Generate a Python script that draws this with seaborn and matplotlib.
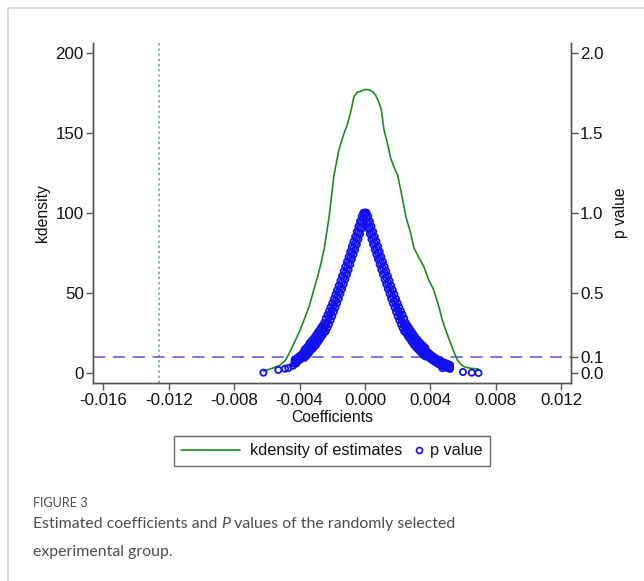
import numpy as np
import pandas as pd
import matplotlib
matplotlib.use("Agg")
import matplotlib.pyplot as plt
import seaborn as sns
from matplotlib.lines import Line2D
from matplotlib.legend_handler import HandlerLine2D

# ---------------- data ----------------
kd_coef = [-0.0062, -0.0057, -0.0052, -0.00485, -0.0046, -0.00434, -0.0040, -0.00373,
           -0.0034, -0.0031, -0.0029, -0.0027, -0.0025, -0.00235, -0.0022, -0.0019,
           -0.0016, -0.0013, -0.00108, -0.00087, -0.00067, -0.00046, -0.00026, 0.0,
           0.00025, 0.00045, 0.00065, 0.00085, 0.0010, 0.00116, 0.00137, 0.00157,
           0.0018, 0.0020, 0.00229, 0.0025, 0.0028, 0.0030, 0.0033, 0.0036, 0.0039,
           0.0042, 0.00438, 0.00453, 0.00473, 0.0050, 0.00524, 0.00545, 0.00565,
           0.00585, 0.00606, 0.00647, 0.00694]
kd_dens = [1.2, 2.8, 4.8, 8.1, 13.0, 18.5, 26.0, 33.0,
           42.0, 53.0, 60.0, 68.0, 77.0, 87.0, 97.0, 123.0,
           139.0, 149.0, 155.0, 163.0, 172.5, 175.4, 175.8, 177.0,
           176.8, 175.8, 173.5, 169.0, 164.4, 152.0, 143.6, 134.2,
           128.0, 123.5, 109.0, 97.7, 87.0, 78.0, 72.0, 66.4, 58.0,
           52.0, 46.0, 41.0, 33.0, 25.0, 18.5, 13.0, 8.1,
           5.5, 3.9, 2.9, 2.5]

# p values, right branch (coefficient >= 0): coefficient grid and three rows of
# p values (band centre, inner edge, outer edge)
p_right_coef = [0.0, 0.0001, 0.0002, 0.0003, 0.0004, 0.0005, 0.0006, 0.0007, 0.0008, 0.0009,
                0.0010, 0.0011, 0.0012, 0.0013, 0.0014, 0.0015, 0.0016, 0.0017, 0.0018, 0.0019,
                0.0020, 0.0021, 0.0022, 0.0023, 0.0024, 0.0025, 0.0026, 0.0027, 0.0028, 0.0029,
                0.0030, 0.0031, 0.0032, 0.0033, 0.0034, 0.0035, 0.0036, 0.0037, 0.0038, 0.0039,
                0.0040, 0.0041, 0.0042, 0.0043, 0.0044, 0.0045, 0.0046, 0.0047, 0.0048, 0.0049,
                0.0050, 0.0051, 0.0052]
p_right_mid = [1.000, 0.970, 0.940, 0.907, 0.875, 0.842, 0.810, 0.780, 0.750, 0.717,
               0.685, 0.655, 0.625, 0.595, 0.565, 0.535, 0.505, 0.477, 0.450, 0.422,
               0.395, 0.370, 0.345, 0.322, 0.300, 0.282, 0.265, 0.250, 0.235, 0.220,
               0.205, 0.192, 0.180, 0.169, 0.158, 0.148, 0.138, 0.129, 0.120, 0.111,
               0.103, 0.095, 0.088, 0.081, 0.075, 0.069, 0.064, 0.059, 0.054, 0.050,
               0.046, 0.042, 0.038]
p_right_hi = [1.000, 1.000, 0.978, 0.946, 0.915, 0.882, 0.850, 0.820, 0.790, 0.757,
              0.725, 0.695, 0.665, 0.635, 0.605, 0.575, 0.545, 0.517, 0.490, 0.462,
              0.435, 0.410, 0.385, 0.362, 0.340, 0.312, 0.295, 0.280, 0.265, 0.250,
              0.235, 0.220, 0.208, 0.196, 0.185, 0.175, 0.165, 0.155, 0.134, 0.125,
              0.116, 0.108, 0.100, 0.093, 0.087, 0.081, 0.076, 0.071, 0.066, 0.062,
              0.058, 0.054, 0.050]
p_right_lo = [0.985, 0.932, 0.902, 0.868, 0.835, 0.802, 0.770, 0.740, 0.710, 0.677,
              0.645, 0.615, 0.585, 0.555, 0.525, 0.495, 0.465, 0.437, 0.410, 0.382,
              0.355, 0.330, 0.305, 0.282, 0.260, 0.252, 0.235, 0.220, 0.205, 0.190,
              0.175, 0.164, 0.152, 0.142, 0.131, 0.121, 0.111, 0.103, 0.106, 0.097,
              0.090, 0.082, 0.075, 0.068, 0.062, 0.056, 0.051, 0.046, 0.041, 0.037,
              0.033, 0.030, 0.026]

# p values, left branch (coefficient <= 0)
p_left_coef = [0.0, -0.0001, -0.0002, -0.0003, -0.0004, -0.0005, -0.0006, -0.0007, -0.0008,
               -0.0009, -0.0010, -0.0011, -0.0012, -0.0013, -0.0014, -0.0015, -0.0016, -0.0017,
               -0.0018, -0.0019, -0.0020, -0.0021, -0.0022, -0.0023, -0.0024, -0.0025, -0.0026,
               -0.0027, -0.0028, -0.0029, -0.0030, -0.0031, -0.0032, -0.0033, -0.0034, -0.0035,
               -0.0036, -0.0037, -0.0038, -0.0039, -0.0040, -0.0041, -0.0042, -0.0043]
p_left_mid = [1.000, 0.970, 0.940, 0.907, 0.875, 0.842, 0.810, 0.780, 0.750, 0.717,
              0.685, 0.655, 0.625, 0.595, 0.565, 0.535, 0.505, 0.477, 0.450, 0.422,
              0.395, 0.370, 0.345, 0.322, 0.300, 0.282, 0.265, 0.250, 0.235, 0.220,
              0.205, 0.192, 0.180, 0.169, 0.158, 0.140, 0.130, 0.120, 0.111, 0.102,
              0.093, 0.085, 0.077, 0.069]
p_left_hi = [1.000, 1.000, 0.978, 0.946, 0.915, 0.882, 0.850, 0.820, 0.790, 0.757,
             0.725, 0.695, 0.665, 0.635, 0.605, 0.575, 0.545, 0.517, 0.490, 0.462,
             0.435, 0.410, 0.385, 0.362, 0.340, 0.312, 0.295, 0.280, 0.265, 0.250,
             0.235, 0.220, 0.208, 0.196, 0.185, 0.165, 0.155, 0.145, 0.123, 0.114,
             0.105, 0.097, 0.089, 0.081]
p_left_lo = [0.985, 0.932, 0.902, 0.868, 0.835, 0.802, 0.770, 0.740, 0.710, 0.677,
             0.645, 0.615, 0.585, 0.555, 0.525, 0.495, 0.465, 0.437, 0.410, 0.382,
             0.355, 0.330, 0.305, 0.282, 0.260, 0.252, 0.235, 0.220, 0.205, 0.190,
             0.175, 0.164, 0.152, 0.142, 0.131, 0.115, 0.105, 0.095, 0.099, 0.090,
             0.081, 0.073, 0.065, 0.057]

# isolated p values in the tails
p_tail_coef = [-0.00621, -0.00530, -0.00489, -0.00469, -0.00440, -0.00420,
               0.00473, 0.00518, 0.00599, 0.00653, 0.00694]
p_tail_val = [0.002, 0.019, 0.027, 0.031, 0.045, 0.060,
              0.030, 0.030, 0.006, 0.002, 0.000]

x_ticks = [-0.016, -0.012, -0.008, -0.004, 0.0, 0.004, 0.008, 0.012]
x_tick_labels = ["-0.016", "-0.012", "-0.008", "-0.004", "0.000", "0.004", "0.008", "0.012"]
y_ticks = [0, 50, 100, 150, 200]
p_ticks = [0.0, 0.1, 0.5, 1.0, 1.5, 2.0]
p_tick_labels = ["0.0", "0.1", "0.5", "1.0", "1.5", "2.0"]
p_threshold = 0.1
true_effect = -0.0126

kd_df = pd.DataFrame({"coef": kd_coef, "dens": kd_dens})
p_df = pd.DataFrame({
    "coef": (p_right_coef * 3) + (p_left_coef * 3) + p_tail_coef,
    "p": p_right_mid + p_right_hi + p_right_lo + p_left_mid + p_left_hi + p_left_lo + p_tail_val,
})

# ---------------- styling ----------------
sns.set_style("white")
plt.rcParams["font.family"] = ["Liberation Sans", "DejaVu Sans"]
FS_TICK = 12.2
FS_LAB = 11.3
FS_LEG = 11.7
green = "#1e8c1e"
blue = "#1010f0"
spine_c = "#555555"
txt_c = "#111111"

W, H = 644, 581
fig = plt.figure(figsize=(W / 100, H / 100), dpi=100)
fig.patch.set_facecolor("white")

ax = fig.add_axes([92.7 / W, 1 - 383 / H, (571 - 92.7) / W, (383 - 43) / H])
ax2 = ax.twinx()

ylo, yhi = -6.25, 206.0
ax.set_xlim(-0.01665, 0.0126)
ax.set_ylim(ylo, yhi)
ax2.set_ylim(ylo / 100, yhi / 100)

# reference lines
ax.axvline(true_effect, color="#5e9c8a", lw=1.1, ls=(0, (1.4, 2.0)), zorder=1)
ax.axhline(p_threshold * 100, color="#5454d8", lw=1.1, ls=(0, (8, 5)), zorder=1)

sns.lineplot(data=kd_df, x="coef", y="dens", ax=ax, color=green, lw=1.2,
             sort=False, legend=False, zorder=3)
sns.scatterplot(data=p_df, x="coef", y="p", ax=ax2, marker="o", s=20,
                facecolor="none", edgecolor=blue, linewidth=1.3, legend=False, zorder=4)

for a in (ax, ax2):
    a.set_facecolor("none")
    a.spines["top"].set_visible(False)
    for side in ("left", "right", "bottom"):
        a.spines[side].set_color(spine_c)
        a.spines[side].set_linewidth(1.0)

ax.set_xticks(x_ticks)
ax.set_xticklabels(x_tick_labels)
ax.set_yticks(y_ticks)
ax.set_yticklabels([str(v) for v in y_ticks])
ax2.set_yticks(p_ticks)
ax2.set_yticklabels(p_tick_labels)

ax.tick_params(axis="both", which="major", direction="out", length=5, width=1.0,
               color=spine_c, labelsize=FS_TICK, labelcolor=txt_c, left=True, bottom=True)
ax.tick_params(axis="y", pad=1.5)
ax.tick_params(axis="x", pad=2.0)
ax2.tick_params(axis="y", direction="out", length=5, width=1.0, color=spine_c,
                labelsize=FS_TICK, labelcolor=txt_c, pad=1.5, right=True)

ax.set_xlabel("Coefficients", fontsize=FS_LAB, color=txt_c, labelpad=1.5)
ax.set_ylabel("kdensity", fontsize=FS_LAB, color=txt_c, labelpad=4)
ax2.set_ylabel("p value", fontsize=FS_LAB, color=txt_c, labelpad=7, rotation=90)

# legend
h_line = Line2D([], [], color=green, lw=1.2)
h_pt = Line2D([], [], ls="none", marker="o", ms=4.3, mfc="none", mec=blue, mew=1.2)
leg = fig.legend([h_line, h_pt], ["kdensity of estimates", "p value"],
                 loc="center", bbox_to_anchor=(332 / W, 1 - 451 / H), ncol=2,
                 fontsize=FS_LEG, frameon=True, fancybox=False, edgecolor="#444444",
                 handlelength=3.6, handletextpad=0.62, columnspacing=-2.5,
                 borderpad=0.45, borderaxespad=0,
                 handler_map={h_pt: HandlerLine2D(numpoints=1, xpad=3.5)})
leg.get_frame().set_linewidth(1.0)
for t in leg.get_texts():
    t.set_color(txt_c)

# page frame (light gray rule on top and left)
fig.add_artist(Line2D([8 / W, 1.0], [1 - 7.5 / H, 1 - 7.5 / H], transform=fig.transFigure,
                      color="#d4d4d4", lw=1.2))
fig.add_artist(Line2D([8 / W, 8 / W], [0.0, 1 - 7.5 / H], transform=fig.transFigure,
                      color="#d4d4d4", lw=1.2))

# caption
cap_font = ["Lato", "DejaVu Sans"]
cap_c = "#4e4e4e"
fig.text(33 / W, 1 - 507 / H, "FIGURE 3", fontsize=9.1, color=cap_c,
         family=cap_font, va="baseline", ha="left")
renderer = fig.canvas.get_renderer()
x0 = 33 / W
y1 = 1 - 528 / H
parts = [("Estimated coefficients and ", "normal"), ("P", "italic"),
         (" values of the randomly selected", "normal")]
for txt, style in parts:
    t = fig.text(x0, y1, txt, fontsize=11.4, color=cap_c, family=cap_font,
                 style=style, va="baseline", ha="left")
    bb = t.get_window_extent(renderer=renderer)
    x0 += bb.width / W
fig.text(33 / W, 1 - 556 / H, "experimental group.", fontsize=11.4, color=cap_c,
         family=cap_font, va="baseline", ha="left")

fig.savefig("out.png", dpi=100, facecolor="white")
